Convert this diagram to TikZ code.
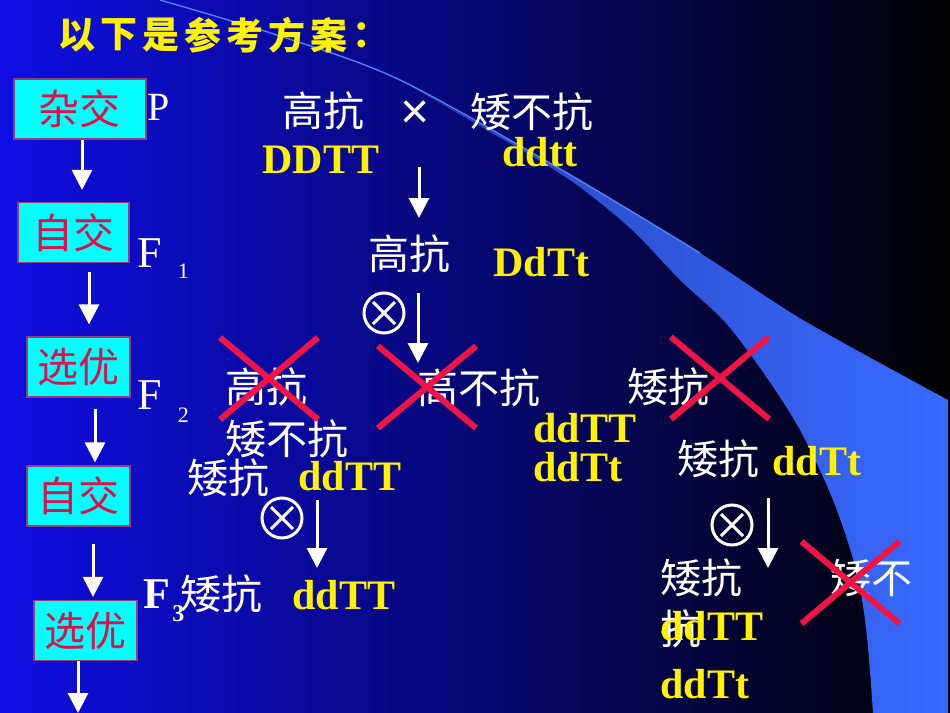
\documentclass[tikz,border=0pt]{standalone}
\usepackage{fontspec}
\setmainfont{Liberation Serif}
\newfontfamily\cjk{Noto Sans CJK SC}
\newfontfamily\signs{Liberation Sans}
\usetikzlibrary{arrows.meta, shapes.misc}

\definecolor{bgblue}{RGB}{14,14,228}
\definecolor{swooshdark}{RGB}{40,68,182}
\definecolor{swooshlight}{RGB}{55,105,255}
\definecolor{swooshline}{RGB}{85,125,255}
\definecolor{boxcyan}{RGB}{0,255,255}
\definecolor{boxedge}{RGB}{150,60,120}
\definecolor{boxred}{RGB}{225,15,75}
\definecolor{crossred}{RGB}{240,20,70}

\begin{document}
\begin{tikzpicture}[x=0.5pt, y=-0.5pt,
	heading/.style={inner sep=0, text=yellow, font=\cjk\bfseries\fontsize{18.5}{20}\selectfont},
	stage/.style={rectangle, draw=boxedge, line width=0.6pt, fill=boxcyan, text=boxred,
		minimum height=30pt, inner sep=0, font=\cjk\fontsize{20.5}{24}\selectfont},
	phen/.style={anchor=west, inner sep=0, text=white, font=\cjk\fontsize{20.5}{24}\selectfont},
	geno/.style={anchor=west, inner sep=0, text=yellow, font=\bfseries\fontsize{21}{24}\selectfont},
	gen/.style={anchor=base west, inner sep=0, text=white, font=\fontsize{22}{24}\selectfont},
	flow/.style={draw=white, line width=1.5pt, -{Triangle[width=10pt,length=10pt]}},
	selfing/.style={circle, draw=white, line width=1.5pt, minimum size=20pt, inner sep=0,
		path picture={\draw[white, line width=1.5pt]
			([shift={(-5.5pt,-5.5pt)}]path picture bounding box.center) -- ([shift={(5.5pt,5.5pt)}]path picture bounding box.center)
			([shift={(-5.5pt,5.5pt)}]path picture bounding box.center) -- ([shift={(5.5pt,-5.5pt)}]path picture bounding box.center);}},
	discard/.style={cross out, draw=crossred, line width=3pt, inner sep=0, minimum width=46pt, minimum height=38pt}]
	\useasboundingbox (0,0) rectangle (950,713);

	% background and swoosh
	\shade[left color=bgblue, right color=black] (0,0) rectangle (950,713);
	\shade[left color=swooshdark, right color=swooshlight]
		plot[smooth] coordinates {(400,80) (567,173) (700,253) (803,320) (948,400)}
		-- (948,713) -- (873,713)
		-- plot[smooth] coordinates {(873,713) (867,637) (857,573) (833,500) (800,430) (765,375) (725,322) (680,280) (630,228) (567,178) (480,126) (400,80)}
		-- cycle;
	\draw[swooshline, line width=0.7pt] plot[smooth] coordinates {(160,0) (280,36) (400,80) (567,173) (700,253)};

	% title
	\foreach \ch [count=\i from 0] in {以,下,是,参,考,方,案,：}
		\node[heading] (t\i) at (77+42*\i, 35) {\ch};

	% breeding steps
	\node[stage, minimum width=66pt] (zajiao) at (80,109) {杂交\hspace{14pt}};
	\node[stage, minimum width=55.5pt] (zijiao1) at (73.5,232.5) {自交};
	\node[stage, minimum width=51.5pt] (xuanyou1) at (78.5,367) {选优};
	\node[stage, minimum width=51.5pt] (zijiao2) at (78.5,496) {自交};
	\node[stage, minimum width=51.5pt] (xuanyou2) at (85.5,630.5) {选优};
	\coordinate (onward) at (78,713);

	\draw[flow, shorten >=6pt] ([xshift=1pt]zajiao.south) -- ([xshift=4.25pt]zijiao1.north);
	\draw[flow, shorten <=4.5pt, shorten >=6pt] ([xshift=7.75pt]zijiao1.south) -- ([xshift=5.25pt]xuanyou1.north);
	\draw[flow, shorten <=5.5pt, shorten >=1.5pt] ([xshift=8.25pt]xuanyou1.south) -- ([xshift=8.25pt]zijiao2.north);
	\draw[flow, shorten <=8.5pt, shorten >=1.5pt] ([xshift=7.25pt]zijiao2.south) -- ([xshift=3.75pt]xuanyou2.north);
	\draw[flow] ([xshift=-3.75pt]xuanyou2.south) -- (onward);

	% generations
	\node[gen, font=\fontsize{20}{24}\selectfont] (genP) at (147,120) {P};
	\node[gen] (genF1) at (137,267) {F\kern8pt\raisebox{-5.5pt}{\fontsize{11}{12}\selectfont 1}};
	\node[gen] (genF2) at (137,409) {F\kern8pt\raisebox{-6.5pt}{\fontsize{11}{12}\selectfont 2}};
	\node[gen, font=\bfseries\fontsize{22}{24}\selectfont] (genF3) at (143,608) {F\kern1pt\raisebox{-6.5pt}{\fontsize{12}{14}\selectfont 3}};

	% P
	\node[phen] (pHigh) at (282,111) {高抗};
	\node[inner sep=0, text=white, font=\signs\fontsize{25}{25}\selectfont] (ptimes) at (415,115) {×};
	\node[phen] (pLow) at (470,112) {矮不抗};
	\node[geno] (pDDTT) at (262,160) {DDTT};
	\node[geno] (pddtt) at (502,152) {ddtt};

	% F1
	\node[phen] (f1High) at (368,254) {高抗};
	\node[geno] (f1DdTt) at (493,262.5) {DdTt};
	\node[selfing] (self1) at (384,313) {};
	\draw[flow] ([xshift=2pt,yshift=-26pt]ptimes.center) -- ([xshift=2pt,yshift=-51.5pt]ptimes.center);
	\draw[flow] ([xshift=17pt,yshift=10pt]self1.center) -- ([xshift=17pt,yshift=-25pt]self1.center);

	% F2
	\node[phen] (f2HighRes) at (225,387) {高抗};
	\node[phen] (f2HighSus) at (417,387.5) {高不抗};
	\node[phen] (f2LowRes) at (627,387) {矮抗};
	\node[phen] (f2LowSus) at (225,438.5) {矮不抗};
	\node[phen] (f2Pick) at (187,477.5) {矮抗};
	\node[geno] (f2PickGeno) at (298,476.5) {ddTT};
	\node[geno] (f2GenoA) at (533,428.5) {ddTT};
	\node[geno] (f2GenoB) at (533,467.5) {ddTt};
	\node[phen] (f2Het) at (677,459) {矮抗};
	\node[geno] (f2HetGeno) at (772,461.5) {ddTt};
	\node[selfing] (self2) at (282,518) {};
	\node[selfing] (self3) at (732,525) {};
	\draw[flow] ([xshift=17.5pt,yshift=9pt]self2.center) -- ([xshift=17.5pt,yshift=-25pt]self2.center);
	\draw[flow] ([xshift=18pt,yshift=13.5pt]self3.center) -- ([xshift=18pt,yshift=-21.5pt]self3.center);

	% F3
	\node[phen] (f3Pure) at (180,594) {矮抗};
	\node[geno] (f3PureGeno) at (292,595) {ddTT};
	\node[phen] (f3Res) at (660,577.5) {矮抗};
	\node[phen] (f3Sus) at (830,577.5) {矮不};
	\node[phen] (f3SusEnd) at (660,629) {抗};
	\node[geno] (f3GenoA) at (660,626.5) {ddTT};
	\node[geno] (f3GenoB) at (660,684) {ddTt};

	% rejected plants
	\node[discard] (out1) at (269,378.5) {};
	\node[discard] (out2) at (427,387) {};
	\node[discard] (out3) at (720,378) {};
	\node[discard] (out4) at (850.5,582.5) {};
\end{tikzpicture}
\end{document}
